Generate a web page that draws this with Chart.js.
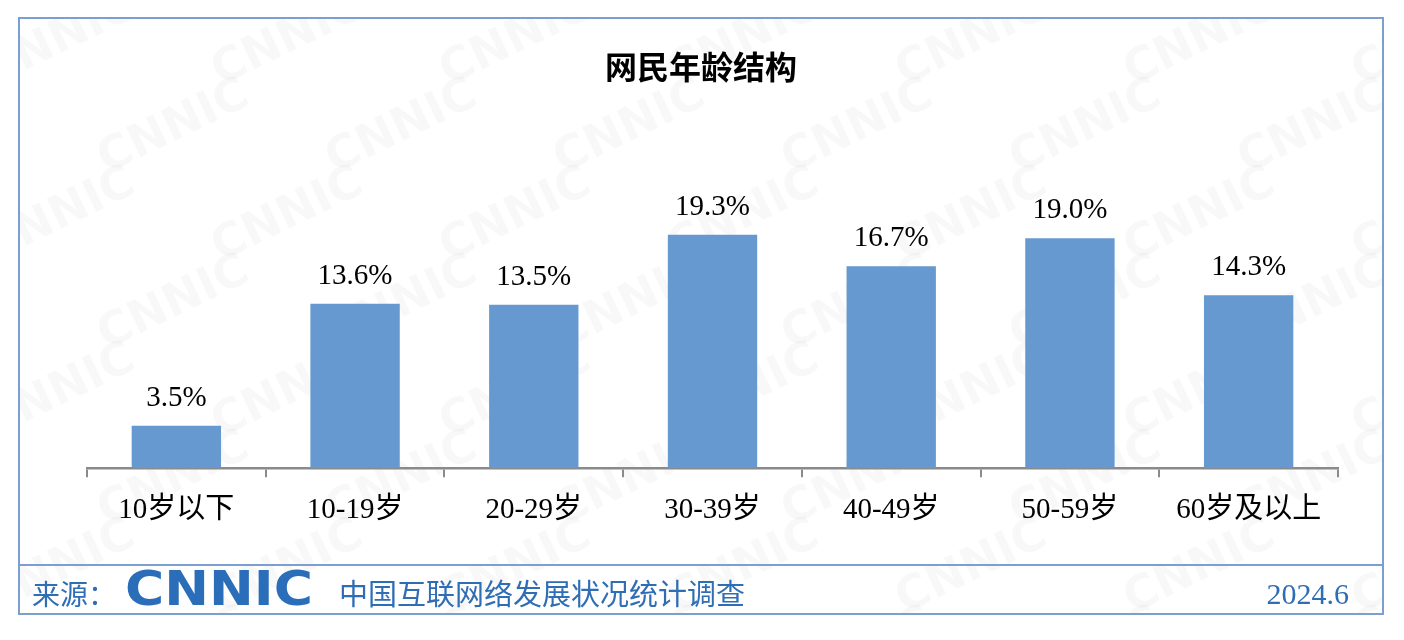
<!DOCTYPE html>
<html>
<head>
<meta charset="utf-8">
<script src="https://cdn.jsdelivr.net/npm/chart.js@4/dist/chart.umd.min.js"></script>
<style>
    html, body { margin: 0; padding: 0; background: #fff; }
    #wrap { width: 1404px; height: 640px; position: relative; }
</style>
</head>
<body>
<div id="wrap"><canvas id="ageChart" width="1404" height="640"></canvas></div>
<script>
// Age groups and share of netizens (%)
const ageGroups = ['10岁以下', '10-19岁', '20-29岁', '30-39岁', '40-49岁', '50-59岁', '60岁及以上'];
const shareValues = [3.5, 13.6, 13.5, 19.3, 16.7, 19.0, 14.3];
const chartTitle = '网民年龄结构';
const sourceText = '中国互联网络发展状况统计调查';
const dateText = '2024.6';

const blue = '#2f6db5';
const serif = '"Liberation Serif", "Noto Sans CJK SC", serif';

// background: watermark, frame, title, footer
const framePlugin = {
    id: 'frame',
    beforeDraw(chart) {
        const ctx = chart.ctx;
        ctx.save();
        ctx.fillStyle = '#fff';
        ctx.fillRect(0, 0, chart.width, chart.height);

        // faint CNNIC watermark
        ctx.beginPath();
        ctx.rect(20, 19, 1362, 594);
        ctx.clip();
        ctx.font = 'bold 46px "DejaVu Sans", sans-serif';
        ctx.fillStyle = 'rgba(0,0,0,0.028)';
        ctx.textAlign = 'center';
        ctx.textBaseline = 'middle';
        for (let row = -2; row < 9; row++) {
            for (let col = -1; col < 8; col++) {
                const x = col * 228 + (row % 2) * 114 + 60;
                const y = row * 88 + 40;
                ctx.save();
                ctx.translate(x, y);
                ctx.rotate(-Math.PI / 7);
                ctx.fillText('CNNIC', 0, 0);
                ctx.restore();
            }
        }
        ctx.restore();

        ctx.save();
        // outer frame + footer separator
        ctx.strokeStyle = '#7b9fd0';
        ctx.lineWidth = 2;
        ctx.strokeRect(19, 18, 1364, 596);
        ctx.beginPath();
        ctx.moveTo(19, 565);
        ctx.lineTo(1383, 565);
        ctx.stroke();

        // title
        ctx.fillStyle = '#000';
        ctx.font = 'bold 32px "Noto Sans CJK SC", sans-serif';
        ctx.textAlign = 'center';
        ctx.textBaseline = 'middle';
        ctx.fillText(chartTitle, 701, 67);

        // footer
        ctx.fillStyle = blue;
        ctx.textAlign = 'left';
        ctx.font = '28px "Noto Sans CJK SC", sans-serif';
        ctx.fillText('来源：', 32, 594);

        // CNNIC logo as stretched bold text
        ctx.save();
        ctx.font = 'bold 48px "DejaVu Sans", sans-serif';
        const w = ctx.measureText('CNNIC').width;
        ctx.translate(125, 593);
        ctx.scale(188 / w, 1);
        ctx.fillStyle = '#2a6db8';
        ctx.fillText('CNNIC', 0, 0);
        ctx.restore();

        ctx.font = '29px "Noto Sans CJK SC", sans-serif';
        ctx.fillText(sourceText, 339, 594);

        ctx.font = '30px ' + serif;
        ctx.textAlign = 'right';
        ctx.fillText(dateText, 1349, 596);
        ctx.restore();
    }
};

// percent labels above each bar
const valueLabels = {
    id: 'valueLabels',
    afterDatasetsDraw(chart) {
        const ctx = chart.ctx;
        const meta = chart.getDatasetMeta(0);
        ctx.save();
        ctx.fillStyle = '#000';
        ctx.font = '29px ' + serif;
        ctx.textAlign = 'center';
        ctx.textBaseline = 'alphabetic';
        meta.data.forEach((bar, i) => {
            ctx.fillText(shareValues[i].toFixed(1) + '%', bar.x, bar.y - 20);
        });
        ctx.restore();
    }
};

new Chart(document.getElementById('ageChart').getContext('2d'), {
    type: 'bar',
    data: {
        labels: ageGroups,
        datasets: [{
            data: shareValues,
            backgroundColor: '#6699cf',
            borderWidth: 0,
            barPercentage: 0.5,
            categoryPercentage: 1
        }]
    },
    options: {
        responsive: false,
        animation: false,
        devicePixelRatio: 1,
        layout: { padding: { top: 202, left: 87, right: 66, bottom: 96 } },
        plugins: {
            legend: { display: false },
            tooltip: { enabled: false }
        },
        scales: {
            x: {
                offset: true,
                grid: {
                    offset: true,
                    drawOnChartArea: false,
                    color: '#8a8a8a',
                    lineWidth: 2,
                    tickLength: 9
                },
                border: { color: '#8a8a8a', width: 2.5 },
                ticks: {
                    color: '#000',
                    padding: 16,
                    font: { family: serif, size: 29 }
                }
            },
            y: {
                display: false,
                min: 0,
                max: 22
            }
        }
    },
    plugins: [framePlugin, valueLabels]
});
</script>
</body>
</html>
